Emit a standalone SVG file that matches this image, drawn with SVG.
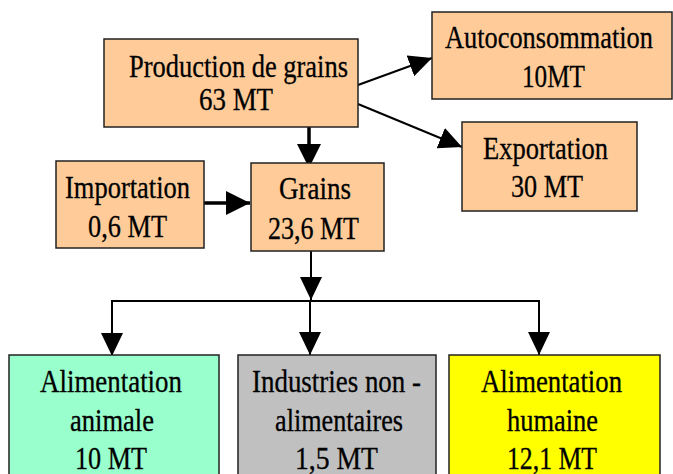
<svg xmlns="http://www.w3.org/2000/svg" width="673" height="474" viewBox="0 0 673 474">
<style>
.box{stroke:#222;stroke-width:1.5}
.or{fill:#FFCC99}
.c{stroke:#000;fill:none}
.thin{stroke-width:2}
.thick{stroke-width:3.5}
</style>
<defs>
<marker id="ah" markerUnits="userSpaceOnUse" viewBox="0 0 23 22" refX="23" refY="11" markerWidth="23" markerHeight="22" orient="auto">
<path d="M0,0 L23,11 L0,22 Z" fill="#000"/>
</marker>
<marker id="ahb" markerUnits="userSpaceOnUse" viewBox="0 0 24 24" refX="24" refY="12" markerWidth="24" markerHeight="24" orient="auto">
<path d="M0,0 L24,12 L0,24 Z" fill="#000"/>
</marker>
</defs>
<rect width="673" height="474" fill="#fff"/>
<g id="connectors">
<line class="c thin" x1="358" y1="85" x2="432" y2="58" marker-end="url(#ah)"/>
<line class="c thin" x1="358" y1="104" x2="462" y2="147" marker-end="url(#ah)"/>
<line class="c thick" x1="309" y1="127" x2="309" y2="168" marker-end="url(#ahb)"/>
<line class="c thick" x1="204" y1="203" x2="250" y2="203" marker-end="url(#ahb)"/>
<line class="c thin" x1="311" y1="251" x2="311" y2="300" marker-end="url(#ah)"/>
<polyline class="c thin" points="112,356 112,301 539,301 539,355"/>
<line class="c thin" x1="112" y1="301" x2="112" y2="356" marker-end="url(#ah)"/>
<line class="c thin" x1="310" y1="301" x2="310" y2="355" marker-end="url(#ah)"/>
<line class="c thin" x1="539" y1="301" x2="539" y2="355" marker-end="url(#ah)"/>
</g>
<g font-family="Liberation Serif, Times New Roman, serif" font-size="31" fill="#000" stroke="#000" stroke-width="0.3">
<g id="production">
<rect class="box or" x="104" y="39" width="254" height="88"/>
<text x="129" y="77" textLength="219" lengthAdjust="spacingAndGlyphs">Production de grains</text>
<text x="199" y="110" textLength="74" lengthAdjust="spacingAndGlyphs">63 MT</text>
</g>
<g id="autoconsommation">
<rect class="box or" x="432" y="12" width="240" height="87"/>
<text x="445" y="48" textLength="208" lengthAdjust="spacingAndGlyphs">Autoconsommation</text>
<text x="522" y="87" textLength="63" lengthAdjust="spacingAndGlyphs">10MT</text>
</g>
<g id="exportation">
<rect class="box or" x="462" y="122" width="175" height="89"/>
<text x="483" y="159" textLength="125" lengthAdjust="spacingAndGlyphs">Exportation</text>
<text x="511" y="197" textLength="72" lengthAdjust="spacingAndGlyphs">30 MT</text>
</g>
<g id="importation">
<rect class="box or" x="56" y="161" width="148" height="87"/>
<text x="65" y="198" textLength="125" lengthAdjust="spacingAndGlyphs">Importation</text>
<text x="88" y="237" textLength="79" lengthAdjust="spacingAndGlyphs">0,6 MT</text>
</g>
<g id="grains">
<rect class="box or" x="251" y="163" width="133" height="88"/>
<text x="279" y="199" textLength="72" lengthAdjust="spacingAndGlyphs">Grains</text>
<text x="268" y="239" textLength="91" lengthAdjust="spacingAndGlyphs">23,6 MT</text>
</g>
<g id="alimentation-animale">
<rect class="box" fill="#99FFCC" x="9" y="355" width="210" height="130"/>
<text x="40" y="392" textLength="142" lengthAdjust="spacingAndGlyphs">Alimentation</text>
<text x="70" y="431" textLength="84" lengthAdjust="spacingAndGlyphs">animale</text>
<text x="75" y="469" textLength="72" lengthAdjust="spacingAndGlyphs">10 MT</text>
</g>
<g id="industries">
<rect class="box" fill="#C0C0C0" x="238" y="355" width="198" height="130"/>
<text x="252" y="392" textLength="169" lengthAdjust="spacingAndGlyphs">Industries non -</text>
<text x="275" y="431" textLength="128" lengthAdjust="spacingAndGlyphs">alimentaires</text>
<text x="295" y="469" textLength="83" lengthAdjust="spacingAndGlyphs">1,5 MT</text>
</g>
<g id="alimentation-humaine">
<rect class="box" fill="#FFFF00" x="449" y="355" width="211" height="130"/>
<text x="481" y="392" textLength="141" lengthAdjust="spacingAndGlyphs">Alimentation</text>
<text x="507" y="431" textLength="91" lengthAdjust="spacingAndGlyphs">humaine</text>
<text x="507" y="469" textLength="90" lengthAdjust="spacingAndGlyphs">12,1 MT</text>
</g>
</g>
</svg>
